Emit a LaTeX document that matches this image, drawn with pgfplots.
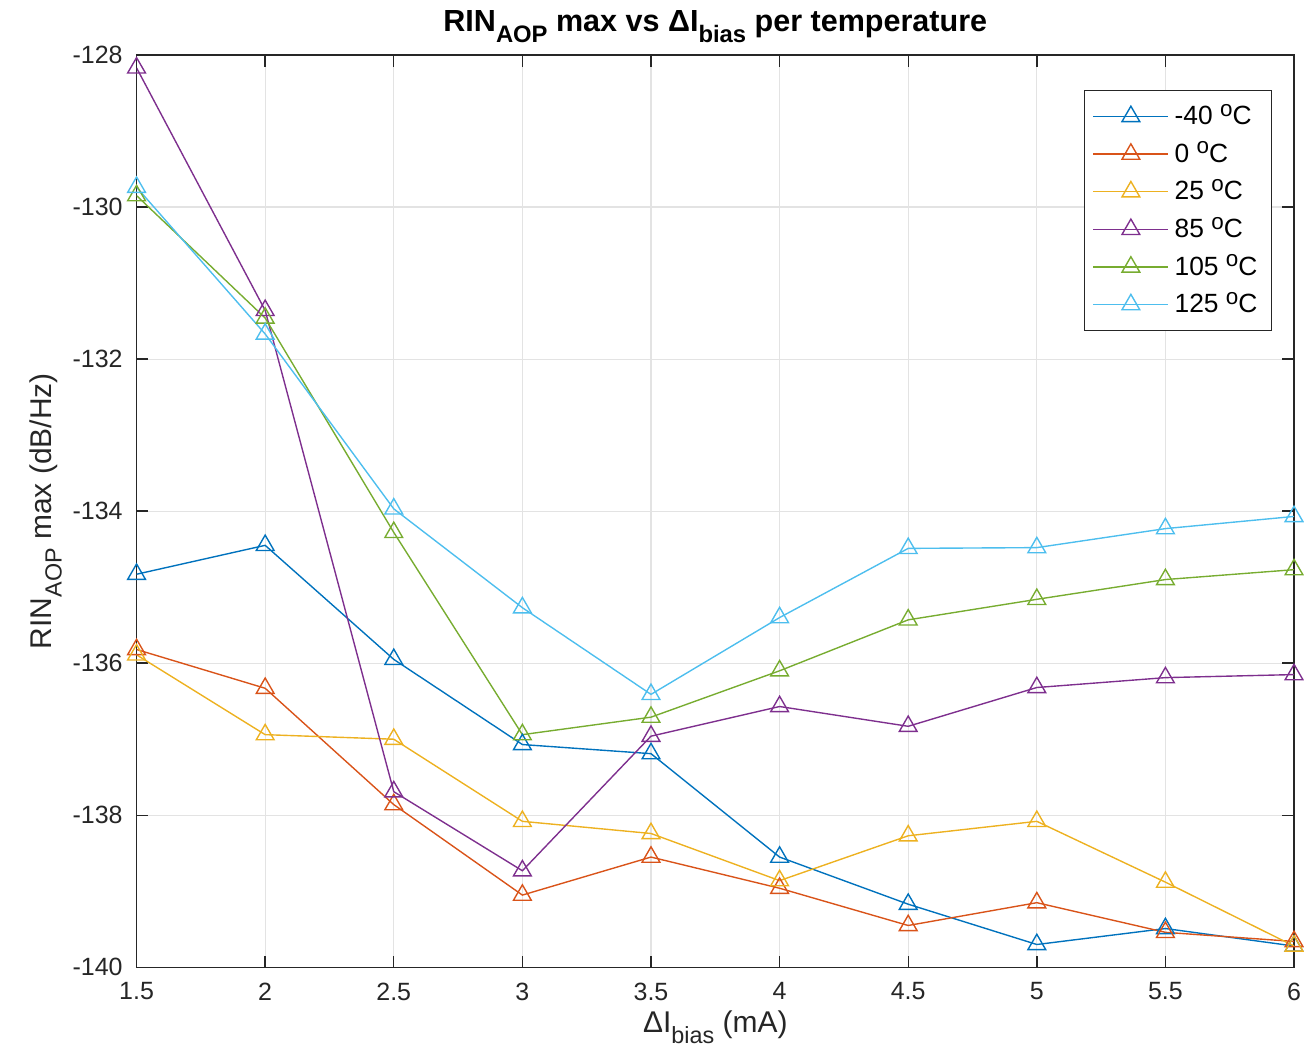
\documentclass[border=0pt]{standalone}
\usepackage{pgfplots}
\pgfplotsset{compat=1.18}
\usepackage{fontspec}
\setmainfont{Liberation Sans}
\definecolor{c1}{RGB}{0,114,189}
\definecolor{c2}{RGB}{217,83,25}
\definecolor{c3}{RGB}{237,177,32}
\definecolor{c4}{RGB}{126,47,142}
\definecolor{c5}{RGB}{119,172,48}
\definecolor{c6}{RGB}{77,190,238}
\definecolor{axc}{RGB}{38,38,38}
\newcommand{\sub}[1]{\raisebox{-0.65ex}{\fontsize{0.78em}{1em}\selectfont #1}}
\newcommand{\degc}{\ \raisebox{0.6ex}{\fontsize{0.85em}{1em}\selectfont o}C}
\begin{document}
\begin{tikzpicture}
\begin{axis}[
  name=ax,
  scale only axis,
  width=417pt, height=328.7pt,
  xmin=1.5, xmax=6, ymin=-140, ymax=-128,
  xtick={1.5,2,...,6}, ytick={-140,-138,...,-128},
  xticklabels={1.5,2,2.5,3,3.5,4,4.5,5,5.5,6},
  yticklabels={-140,-138,-136,-134,-132,-130,-128},
  tick align=inside,
  major tick length=4.2pt,
  axis line style={axc, line width=0.5pt},
  tick style={axc, line width=0.5pt},
  ticklabel style={font=\fontsize{9}{10}\selectfont, text=axc},
  /pgf/number format/assume math mode=true,
  grid=major,
  grid style={gray!22, line width=0.4pt},
  xticklabel style={yshift=-2pt},
  yticklabel style={xshift=-1.5pt},
  title={\bfseries RIN\sub{AOP} max vs ΔI\sub{bias} per temperature},
  title style={font=\fontsize{11}{13}\selectfont, yshift=-5pt},
  xlabel={ΔI\sub{bias} (mA)},
  ylabel={RIN\sub{AOP} max (dB/Hz)},
  label style={font=\fontsize{10.8}{12}\selectfont, text=axc},
  xlabel style={yshift=3pt},
  ylabel style={yshift=-3pt},
  legend style={at={(0.981,0.962)}, anchor=north east, draw=axc, line width=0.5pt,
    font=\fontsize{9.5}{11}\selectfont, row sep=0.7pt, inner xsep=3pt, inner ysep=3pt},
  legend cell align=left,
  legend image code/.code={
    \draw[#1, mark=none] (0cm,0cm) -- (0.95cm,0cm);
    \draw[#1, only marks] plot coordinates {(0.475cm,0cm)};
  },
  every axis plot/.append style={line width=0.5pt, mark=triangle, mark size=3.7pt, mark options={solid}},
]
\addplot[c1] coordinates {(1.5,-134.83)(2,-134.45)(2.5,-135.95)(3,-137.07)(3.5,-137.19)(4,-138.55)(4.5,-139.17)(5,-139.70)(5.5,-139.49)(6,-139.72)};
\addlegendentry{-40\degc}
\addplot[c2] coordinates {(1.5,-135.82)(2,-136.33)(2.5,-137.86)(3,-139.05)(3.5,-138.55)(4,-138.96)(4.5,-139.45)(5,-139.15)(5.5,-139.54)(6,-139.66)};
\addlegendentry{0\degc}
\addplot[c3] coordinates {(1.5,-135.89)(2,-136.94)(2.5,-137.00)(3,-138.08)(3.5,-138.24)(4,-138.86)(4.5,-138.27)(5,-138.08)(5.5,-138.88)(6,-139.72)};
\addlegendentry{25\degc}
\addplot[c4] coordinates {(1.5,-128.17)(2,-131.36)(2.5,-137.69)(3,-138.73)(3.5,-136.96)(4,-136.57)(4.5,-136.83)(5,-136.32)(5.5,-136.19)(6,-136.15)};
\addlegendentry{85\degc}
\addplot[c5] coordinates {(1.5,-129.85)(2,-131.46)(2.5,-134.28)(3,-136.94)(3.5,-136.71)(4,-136.10)(4.5,-135.43)(5,-135.16)(5.5,-134.90)(6,-134.77)};
\addlegendentry{105\degc}
\addplot[c6] coordinates {(1.5,-129.74)(2,-131.67)(2.5,-133.97)(3,-135.27)(3.5,-136.41)(4,-135.40)(4.5,-134.49)(5,-134.48)(5.5,-134.23)(6,-134.07)};
\addlegendentry{125\degc}
\end{axis}
\pgfresetboundingbox
\path (ax.south west)++(-49.2pt,-33.1pt) coordinate (bl);
\path (ax.north east)++(3.6pt,19.8pt) coordinate (tr);
\path[use as bounding box] (bl) rectangle (tr);
\end{tikzpicture}
\end{document}
